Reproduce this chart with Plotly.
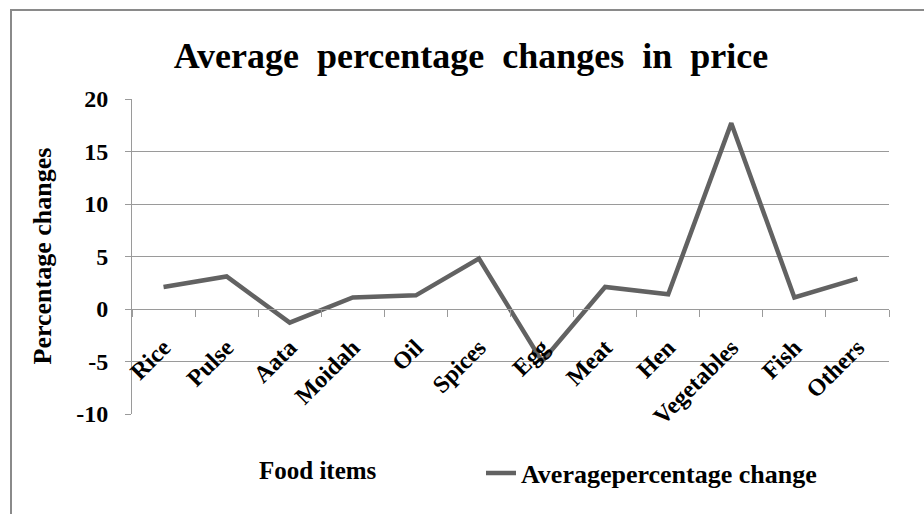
import plotly.graph_objects as go

# Food categories and their average percentage change in price
categories = ["Rice", "Pulse", "Aata", "Moidah", "Oil", "Spices", "Egg",
              "Meat", "Hen", "Vegetables", "Fish", "Others"]
avg_change = [2.1, 3.1, -1.3, 1.1, 1.3, 4.8, -5.0, 2.1, 1.4, 17.7, 1.1, 2.9]

y_ticks = [-10, -5, 0, 5, 10, 15, 20]
y_tick_text = ["-10", "-5", "0", "5", "10", "15", "20"]

FONT = "Liberation Serif"
GRID = "#9a9a9a"
LINE = "#626262"

W, H = 924, 514
L, R, T, B = 132, 35, 99, 100
PW, PH = W - L - R, H - T - B


def px_x(p):
    """Pixel column -> paper x."""
    return (p - L) / PW


def px_y(p):
    """Pixel row -> paper y."""
    return (H - B - p) / PH


fig = go.Figure()
fig.add_trace(go.Scatter(
    x=categories, y=avg_change, mode="lines",
    name="Averagepercentage change",
    line=dict(color=LINE, width=4.5),
))

y_min, y_max = y_ticks[0], y_ticks[-1]

fig.update_layout(
    width=W, height=H,
    margin=dict(l=L, r=R, t=T, b=B),
    paper_bgcolor="white", plot_bgcolor="white",
    font=dict(family=FONT, color="black"),
    showlegend=True,
    legend=dict(
        x=px_x(481), y=px_y(473), xanchor="left", yanchor="middle",
        font=dict(family=FONT, size=26, weight="bold"),
        bgcolor="rgba(0,0,0,0)",
    ),
    title=dict(
        text="Average  percentage  changes  in  price",
        x=471 / W, xref="container", xanchor="center",
        y=1 - 55 / H, yref="container", yanchor="middle",
        font=dict(family=FONT, size=36, weight="bold", color="black"),
    ),
    xaxis=dict(
        type="category", range=[-0.5, len(categories) - 0.5],
        anchor="free", position=(0 - y_min) / (y_max - y_min),
        showline=True, linecolor=GRID, linewidth=1,
        ticks="outside", ticklen=7, tickcolor=GRID, tickson="boundaries",
        showgrid=False, tickangle=-45, ticklabelstandoff=14,
        tickfont=dict(family=FONT, size=24, weight="bold", color="black"),
    ),
    yaxis=dict(
        range=[y_min, y_max], tickvals=y_ticks, ticktext=y_tick_text,
        showgrid=True, gridcolor=GRID, gridwidth=1,
        showline=True, linecolor=GRID, linewidth=1,
        ticks="outside", ticklen=6, tickcolor=GRID,
        zeroline=False, ticklabelstandoff=12,
        tickfont=dict(family=FONT, size=24, weight="bold", color="black"),
    ),
)

# Axis titles
fig.add_annotation(
    text="Percentage changes", xref="paper", yref="paper",
    x=px_x(42), y=0.5, textangle=-90, showarrow=False,
    xanchor="center", yanchor="middle",
    font=dict(family=FONT, size=26, weight="bold", color="black"),
)
fig.add_annotation(
    text="Food items", xref="paper", yref="paper",
    x=px_x(318), y=px_y(470), showarrow=False,
    xanchor="center", yanchor="middle",
    font=dict(family=FONT, size=25, weight="bold", color="black"),
)

# Chart-area frame
fig.add_shape(
    type="rect", xref="paper", yref="paper",
    x0=px_x(11), x1=px_x(940), y0=px_y(530), y1=px_y(10),
    line=dict(color="#8a8a8a", width=2), fillcolor="rgba(0,0,0,0)",
    layer="below",
)

fig.write_html("out.html")
